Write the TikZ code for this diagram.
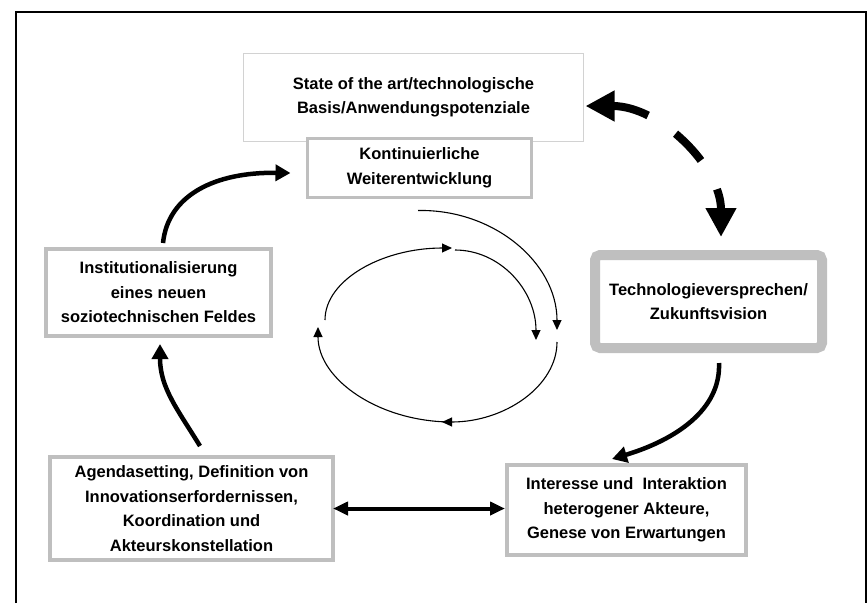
\documentclass[tikz,border=0pt]{standalone}
\usepackage{fontspec}
\setmainfont{Liberation Sans}
\usetikzlibrary{arrows.meta}
\definecolor{boxgray}{HTML}{BFBFBF}
\definecolor{toplinegray}{HTML}{D2D2D2}
\begin{document}
\begin{tikzpicture}[x=1pt,y=-1pt,
  lbl/.style={font=\fontsize{16.5}{24.5}\selectfont\bfseries, align=center, inner sep=0pt, fill=white},
  graybox/.style={lbl, draw=boxgray, line width=4pt},
  heavyarrow/.style={line width=4.5pt, -{Triangle[length=15pt,width=16pt]}},
  loosearrow/.style={line width=1.1pt, -{Triangle[length=10pt,width=9pt]}},
]
\useasboundingbox (0,0) rectangle (868,603);
\draw[line width=2pt] (16,603) -- (16,12) -- (866,12) -- (866,603);

% boxes
\node[lbl, draw=toplinegray, line width=1pt, minimum width=340pt, minimum height=88pt] (top) at (413.5,97.5)
  {State of the art/technologische\\Basis/Anwendungspotenziale};
\node[graybox, line width=3pt, minimum width=224pt, minimum height=59pt] (kont) at (419.5,168)
  {Kontinuierliche\\Weiterentwicklung};
\node[graybox, minimum width=225pt, minimum height=87pt] (inst) at (158.5,292.5)
  {Institutionalisierung\\eines neuen\\soziotechnischen Feldes};
\node[graybox, line width=10pt, rounded corners=5pt, minimum width=227pt, minimum height=93pt] (tech) at (708.5,301.5)
  {Technologieversprechen/\\Zukunftsvision};
\node[graybox, minimum width=283pt, minimum height=103pt] (agenda) at (191.5,508.5)
  {Agendasetting, Definition von\\Innovationserfordernissen,\\Koordination und\\Akteurskonstellation};
\node[graybox, minimum width=239pt, minimum height=90pt] (inter) at (626.5,510)
  {Interesse und\ \ Interaktion\\heterogener Akteure,\\Genese von Erwartungen};

% dashed double arrow
\coordinate (d1) at ([xshift=1.5pt,yshift=-8.5pt]top.east);
\coordinate (d2) at ([xshift=12.5pt,yshift=13pt]tech.north);
\draw[line width=8pt, dash pattern=on 37pt off 33pt,
  {Triangle[length=29pt,width=29pt]}-{Triangle[length=29pt,width=29pt]}]
  (d1) .. controls (660,106) and (721,167) .. (d2);

% heavy arrows of the cycle
\draw[heavyarrow] ([xshift=8.5pt,yshift=9pt]agenda.north) .. controls (178,410) and (160,388) .. ([xshift=1.5pt,yshift=-6pt]inst.south);
\draw[heavyarrow] ([xshift=4.5pt,yshift=4pt]inst.north) .. controls (168,195) and (215,172) .. ([xshift=-15.5pt,yshift=-5pt]kont.west);
\draw[heavyarrow] ([xshift=10.5pt,yshift=-10pt]tech.south) .. controls (721,410) and (675,440) .. ([xshift=-14.5pt,yshift=4pt]inter.north);
\draw[line width=4pt, {Triangle[length=15pt,width=13pt]}-{Triangle[length=15pt,width=13pt]}, shorten <=-2pt]
  (agenda.east) -- (agenda.east -| inter.west);

% inner loop
\coordinate (k0) at ([xshift=-1.5pt,yshift=-11.5pt]kont.south);
\coordinate (k1) at (557,330);
\coordinate (l1a) at (325,320);
\coordinate (l1b) at (452,248);
\coordinate (l2a) at (455,250);
\coordinate (l2b) at (536,340);
\coordinate (l4a) at (557,342);
\coordinate (l4b) at (442,422);
\coordinate (l5a) at (452,422);
\coordinate (l5b) at (318,327);
\draw[loosearrow] (k0) .. controls (494,209) and (557,263) .. (k1);
\draw[loosearrow] (l1a) .. controls (325,280) and (382,248) .. (l1b);
\draw[loosearrow] (l2a) .. controls (500,250) and (536,290) .. (l2b);
\draw[loosearrow] (l4a) .. controls (557,386) and (505,422) .. (l4b);
\draw[loosearrow] (l5a) .. controls (380,422) and (318,380) .. (l5b);
\end{tikzpicture}
\end{document}
